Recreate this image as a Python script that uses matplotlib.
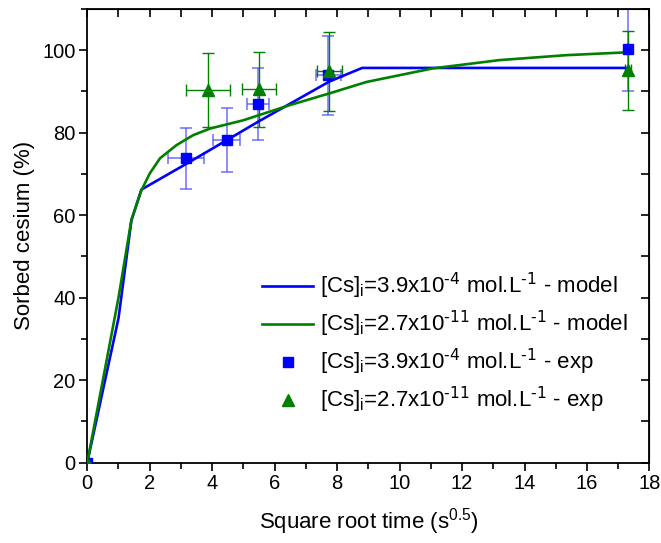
import numpy as np
import matplotlib
matplotlib.use("Agg")
import matplotlib.pyplot as plt

plt.rcParams['font.family'] = ['Liberation Sans', 'DejaVu Sans']
plt.rcParams['mathtext.default'] = 'regular'

# model curves (square root of time, sorbed %)
blue_model_x = [0, 1.0, 1.414, 1.732, 3.16, 4.47, 5.48, 7.75, 8.8, 17.32]
blue_model_y = [0, 35.0, 58.7, 66.2, 72.4, 78.2, 82.7, 92.4, 95.7, 95.7]
green_model_x = [0, 1.0, 1.414, 1.732, 2.0, 2.33, 2.86, 3.39, 3.93, 4.99, 6.49,
                 7.74, 8.94, 11.07, 13.2, 15.34, 17.32]
green_model_y = [0, 40.0, 58.9, 66.0, 70.1, 73.8, 77.0, 79.4, 81.0, 83.0, 86.7,
                 89.5, 92.3, 95.6, 97.6, 98.8, 99.5]

# experimental points
blue_x = [0, 3.16, 4.46, 5.47, 7.72, 17.31]
blue_y = [0, 73.8, 78.2, 86.9, 93.9, 100.2]
blue_xerr = [0, 0.57, 0.43, 0.35, 0.39, 0.0]
blue_yerr = [0, 7.4, 7.8, 8.7, 9.6, 10.0]

green_x = [0, 3.87, 5.5, 7.74, 17.31]
green_y = [0, 90.3, 90.5, 94.9, 95.1]
green_xerr = [0, 0.71, 0.53, 0.4, 0.1]
green_yerr = [0, 9.0, 9.0, 9.6, 9.5]

labels = [r"[Cs]$_{i}$=3.9x10$^{\text{-4}}$ mol.L$^{\text{-1}}$ - model",
          r"[Cs]$_{i}$=2.7x10$^{\text{-11}}$ mol.L$^{\text{-1}}$ - model",
          r"[Cs]$_{i}$=3.9x10$^{\text{-4}}$ mol.L$^{\text{-1}}$ - exp",
          r"[Cs]$_{i}$=2.7x10$^{\text{-11}}$ mol.L$^{\text{-1}}$ - exp"]

blue = "#0000ff"
green = "#007f00"

fig = plt.figure(figsize=(6.61, 5.43), dpi=100)
ax = fig.add_axes([0.132, 0.148, 0.8506, 0.8355])

l1, = ax.plot(blue_model_x, blue_model_y, color=blue, lw=1.9, zorder=3)
l2, = ax.plot(green_model_x, green_model_y, color=green, lw=1.9, zorder=3)

ax.errorbar(blue_x, blue_y, xerr=blue_xerr, yerr=blue_yerr, fmt='none',
            ecolor=(0.3, 0.3, 1.0, 0.75), elinewidth=1.2, capsize=4, capthick=1.2,
            zorder=2)
m1, = ax.plot(blue_x, blue_y, 's', color=blue, ms=7, ls='none', zorder=4)

ax.errorbar(green_x, green_y, xerr=green_xerr, yerr=green_yerr, fmt='none',
            ecolor=green, elinewidth=1.0, capsize=4, capthick=1.0, zorder=2)
m2, = ax.plot(green_x, green_y, '^', color=green, ms=8.5, ls='none', zorder=5)

ax.set_xlim(0, 18)
ax.set_ylim(0, 110)
ax.set_xticks(np.arange(0, 19, 2))
ax.set_xticks(np.arange(0, 19, 1), minor=True)
ax.set_yticks(np.arange(0, 101, 20))
ax.set_yticks(np.arange(0, 111, 10), minor=True)
ax.tick_params(which='both', direction='out', top=False, right=False,
               labelsize=14.5, width=1.2)
ax.tick_params(which='major', length=5.5, pad=3)
ax.tick_params(which='minor', length=4)
for sp in ax.spines.values():
    sp.set_linewidth(1.3)

# mirrored ticks pointing inward on top and right
sec_x = ax.secondary_xaxis('top')
sec_x.set_xticks(np.arange(0, 19, 1))
sec_x.tick_params(direction='in', length=6, width=1.2, labeltop=False)
sec_y = ax.secondary_yaxis('right')
sec_y.set_yticks(np.arange(0, 111, 10))
sec_y.tick_params(direction='in', length=6, width=1.2, labelright=False)

ax.set_xlabel(r"Square root time (s$^{0.5}$)", fontsize=16, labelpad=9)
ax.set_ylabel("Sorbed cesium (%)", fontsize=16, labelpad=5)

ax.legend([l1, l2, m1, m2], labels, loc='lower right',
          bbox_to_anchor=(0.985, 0.075), frameon=False, fontsize=16,
          handlelength=2.3, handletextpad=0.3, labelspacing=0.35,
          borderaxespad=0.2)

fig.savefig("out.png", dpi=100)
